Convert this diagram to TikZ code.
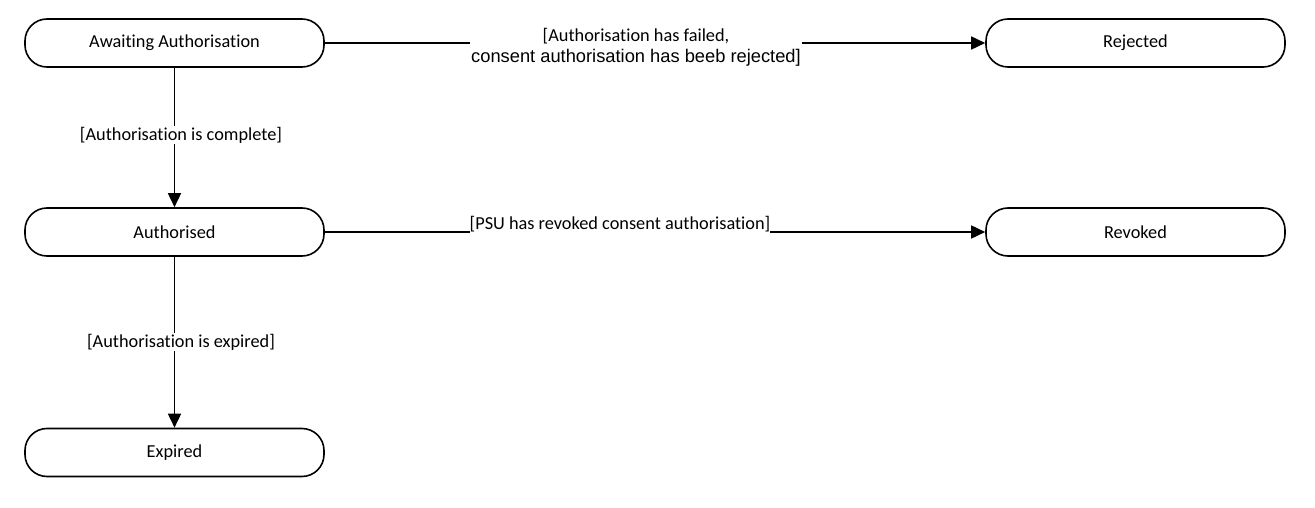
\documentclass[tikz,border=0pt]{standalone}
\usepackage{fontspec}
\setmainfont{Carlito}[Ligatures={NoCommon}]
\newfontfamily\arialf{Liberation Sans}
\usetikzlibrary{arrows.meta}
\begin{document}
\begin{tikzpicture}[x=1pt,y=-1pt,
  state/.style={draw, line width=1.6pt, rounded corners=22pt, minimum width=299pt, minimum height=48pt, inner sep=0pt, font=\fontsize{18.3}{21}\selectfont},
  trans/.style={draw, line width=1.6pt, -{Triangle[length=14pt,width=13pt]}},
  lbl/.style={fill=white, inner sep=1pt, font=\fontsize{18.3}{21}\selectfont, align=center}]
\useasboundingbox (0,0) rectangle (1315,508);
\node[state] (await) at (174.5,43) {Awaiting Authorisation};
\node[state] (auth)  at (174.5,232) {Authorised};
\node[state] (exp)   at (174.5,452.5) {Expired};
\node[state] (rej)   at (1135.5,43) {Rejected};
\node[state] (rev)   at (1135.5,232) {Revoked};

\draw[trans] (await) -- (auth);
\draw[trans] (auth) -- (exp);
\draw[trans] (await) -- (rej);
\draw[trans] (auth) -- (rev);

\node[lbl] (l1) at (181,135) {[Authorisation is complete]};
\node[lbl] (l2) at (181,342) {[Authorisation is expired]};
\node[lbl, inner ysep=0pt] (l3) at (636,47.5) {[Authorisation has failed,\\{\arialf consent authorisation has beeb rejected]}};
\node[lbl, inner xsep=0pt, inner ysep=6pt] (l4) at (620,224) {[PSU has revoked consent authorisation]};
\end{tikzpicture}
\end{document}
